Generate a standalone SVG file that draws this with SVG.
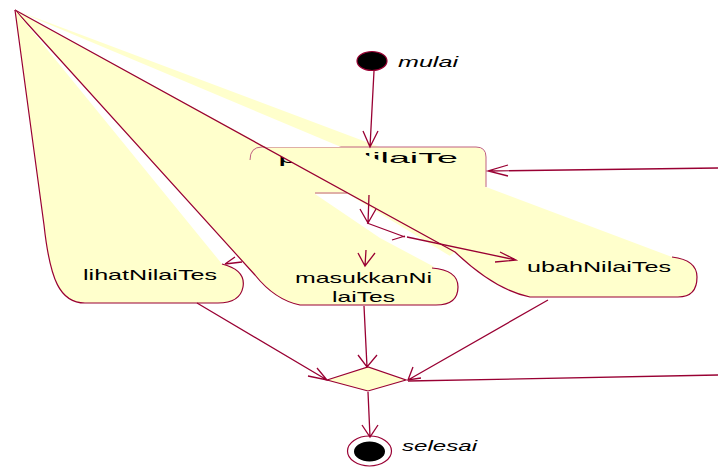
<svg xmlns="http://www.w3.org/2000/svg" width="718" height="467" viewBox="0 0 718 467">
<style>
.fill{fill:#FFFFCC;stroke:none}
.gap{fill:#FFFFFF;stroke:none}
.edge{fill:none;stroke:#990033;stroke-width:1.2}
.faint{fill:none;stroke:#C06080;stroke-width:1}
.conn{fill:none;stroke:#990033;stroke-width:1.3}
.lbl{font-family:"Liberation Sans",Arial,sans-serif;font-size:15px;fill:#000}
.ilbl{font-family:"Liberation Sans",Arial,sans-serif;font-size:15px;font-style:italic;fill:#000}
</style>
<rect width="718" height="467" fill="#fff"/>
<g id="ubahNilaiTes-fill">
<path class="fill" d="M15,10 L672,257 Q697,260 697,277 Q697,297 678,297 L530,297 Q495,290 455,252 L432,268 Q458,270 458,287 Q458,305 436,305 L300,305 Q275,300 255,275 Z"/>
</g>
<g id="pilihNilaiTes">
<rect class="fill" x="250" y="147" width="236" height="46" rx="10"/>
<text class="lbl" x="278" y="163" textLength="180" lengthAdjust="spacingAndGlyphs">pilihNilaiTe</text>
<polygon class="fill" points="264,147 347,147 458,193 348,193"/>
<path class="faint" d="M250,160 Q250,147 262,147 L476,147 Q486,147 486,157 L486,187 M315,193 L347,193"/>
</g>
<g id="ubahNilaiTes">
<polygon class="gap" points="15,10 266,147 341,147"/>
<polygon class="gap" points="315,194 348,194 473,270 440,270 380,238"/>
<path class="edge" d="M15,10 L455,252 Q495,290 530,297 L678,297 Q697,297 697,277 Q697,260 672,257"/>
<text class="lbl" x="527" y="272" textLength="144" lengthAdjust="spacingAndGlyphs">ubahNilaiTes</text>
</g>
<g id="masukkanNilaiTes">
<path class="edge" d="M15,10 L255,275 Q275,300 300,305 L436,305 Q458,305 458,287 Q458,270 432,268"/>
<text class="lbl" x="295" y="283" textLength="137" lengthAdjust="spacingAndGlyphs">masukkanNi</text>
<text class="lbl" x="332" y="302" textLength="63" lengthAdjust="spacingAndGlyphs">laiTes</text>
</g>
<g id="lihatNilaiTes">
<path class="fill" d="M15,10 L222,264 Q246,270 243,287 Q240,303 218,303 L85,303 C60,303 50,280 44,225 Z"/>
<path class="edge" d="M15,10 L44,225 C50,280 60,303 85,303 L218,303 Q240,303 243,287 Q246,270 222,264"/>
<text class="lbl" x="83" y="280" textLength="134" lengthAdjust="spacingAndGlyphs">lihatNilaiTes</text>
</g>
<g id="mulai">
<ellipse cx="372" cy="61" rx="15" ry="9.5" fill="#000" stroke="#990033" stroke-width="1.2"/>
<text class="ilbl" x="398" y="67" textLength="60" lengthAdjust="spacingAndGlyphs">mulai</text>
</g>
<g id="merge">
<polygon points="327,380 368,367 406,380 368,391" fill="#FFFFCC" stroke="#990033" stroke-width="1.2"/>
</g>
<g id="selesai">
<ellipse cx="369.5" cy="451" rx="22" ry="15" fill="#fff" stroke="#990033" stroke-width="1.2"/>
<ellipse cx="369.5" cy="451.5" rx="15.5" ry="10" fill="#000"/>
<text class="ilbl" x="402" y="451" textLength="75" lengthAdjust="spacingAndGlyphs">selesai</text>
</g>
<g id="connectors">
<path class="conn" d="M374,71 L370,147 M363,131 L370,147 L378,131"/>
<path class="conn" d="M369,195 L368,223 M360,209 L368,223 L376,209"/>
<path class="conn" d="M367,223 L405,237 M392,240 L405,236 M407,237 L516,260 M500,252 L516,260 L495,262"/>
<path class="conn" d="M366,250 L365,266 M358,253 L365,266 L375,253"/>
<path class="conn" d="M225,264 L235,257 M225,264 L242,262"/>
<path class="conn" d="M197,303 L327,380 M308,376 L327,380 L317,368"/>
<path class="conn" d="M364,306 L367,367 M358,355 L367,367 L377,355"/>
<path class="conn" d="M548,300 L408,380 M413,367 L408,380 L421,378"/>
<path class="conn" d="M718,375 L408,381"/>
<path class="conn" d="M718,168 L488,171 M508,165 L488,171 L508,176"/>
<path class="conn" d="M368,392 L370,437 M362,425 L370,437 L378,425"/>
</g>
</svg>
